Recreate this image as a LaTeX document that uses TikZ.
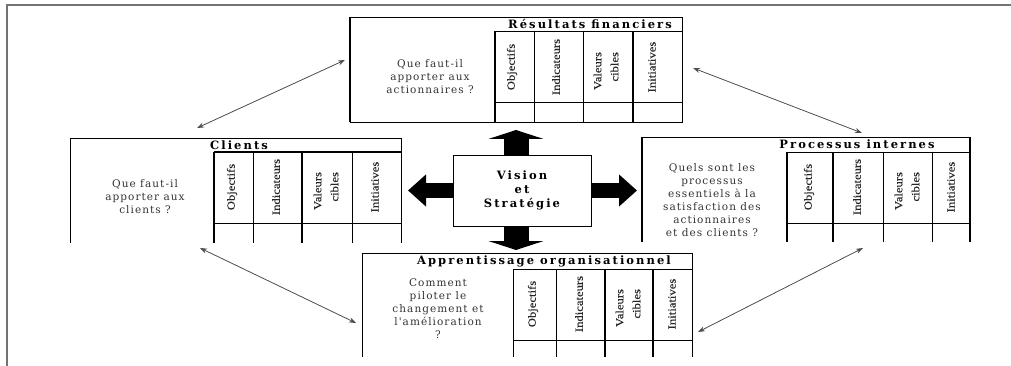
\documentclass[tikz,border=0pt]{standalone}
\usepackage{fontspec}
\setmainfont{Liberation Serif}
\newfontfamily\bodyfont{DejaVu Serif}[LetterSpace=10]
\newfontfamily\headfont{DejaVu Serif}[LetterSpace=18]
\newfontfamily\colfont{Liberation Serif}[FakeStretch=1.15, FakeBold=0.3]
\usetikzlibrary{arrows.meta, calc}
\tikzstyle{thinline} = [line width=0.9pt]
\tikzstyle{thickline} = [line width=2.4pt]
\tikzstyle{box} = [rectangle, draw=none, inner sep=0pt, outer sep=0pt]
\tikzstyle{question} = [align=center, text=black!80, font=\bodyfont\fontsize{10.5}{13}\selectfont]
\tikzstyle{header} = [inner sep=0pt, font=\headfont\bfseries\fontsize{11.5}{14}\selectfont]
\tikzstyle{collabel} = [rotate=90, align=right, text=black!85, font=\colfont\fontsize{11}{11}\selectfont]
\tikzstyle{link} = [{Stealth[length=7pt,width=5pt]}-{Stealth[length=7pt,width=5pt]}, line width=0.8pt, black!70]
\tikzstyle{bigv} = [line width=25pt, -{Triangle[width=55pt,length=9pt]}]
\tikzstyle{bigh} = [line width=14pt, -{Triangle[width=31pt,length=18pt]}]

\begin{document}
\begin{tikzpicture}[x=1pt, y=-1pt]
\useasboundingbox (0,0) rectangle (1011,366);

% Outer frame (cropped)
\draw[line width=1.4pt, black!55] (7,366) -- (7,5) -- (1011,5);

% Panels
\node[box, minimum width=332pt, minimum height=105pt] (fin) at (516,69.5) {};
\node[box, minimum width=331pt, minimum height=105pt] (clients) at (235.5,190.5) {};
\node[box, minimum width=328pt, minimum height=105pt] (internes) at (806,189.5) {};
\node[box, minimum width=330pt, minimum height=104pt] (apprent) at (527,305) {};

% Resultats financiers
\draw[thinline] (fin.north west) -- (fin.north east) -- (fin.south east) -- (fin.south west);
\draw[thickline] (fin.north west) -- (fin.south west);
\draw[thinline] (495,31) -- (682,31);
\draw[thinline] (495,102) -- (682,102);
\draw[thickline] (495,31) -- (495,122);
\draw[thinline] (534,31) -- (534,122);
\draw[thinline] (583,31) -- (583,122);
\draw[thickline] (633,31) -- (633,122);
\node[header] (finh) at (590,24) {Résultats financiers};
\node[question] (finq) at (430,77) {Que faut-il\\apporter aux\\actionnaires ?};
\node[collabel] (fobj) at (512,67) {Objectifs};
\node[collabel] (find) at (556,67) {Indicateurs};
\node[collabel] (fval) at (606,71) {Valeurs\\[6pt]cibles};
\node[collabel] (fini) at (652,67) {Initiatives};

% Clients
\draw[thinline] (clients.south west) -- (clients.north west) -- (clients.north east) -- (clients.south east);
\draw[thickline] (214,152) -- (401,152);
\draw[thinline] (214,223) -- (401,223);
\draw[thickline] (214,152) -- (214,243);
\draw[thinline] (253,152) -- (253,243);
\draw[thickline] (302,152) -- (302,243);
\draw[thinline] (352,152) -- (352,243);
\node[header] (clih) at (239,145) {Clients};
\node[question] (cliq) at (145,197) {Que faut-il\\apporter aux\\clients ?};
\node[collabel] (cobj) at (232,187) {Objectifs};
\node[collabel] (cind) at (276,187) {Indicateurs};
\node[collabel] (cval) at (326,191) {Valeurs\\[6pt]cibles};
\node[collabel] (cini) at (375,187) {Initiatives};

% Processus internes
\draw[thinline] (internes.north west) -- (internes.north east);
\draw[thickline] (internes.north west) -- (internes.south west);
\draw[thickline] (internes.north east) -- (internes.south east);
\draw[thinline] (787,152) -- (970,152);
\draw[thinline] (787,223) -- (970,223);
\draw[thickline] (787,152) -- (787,242);
\draw[thickline] (833,152) -- (833,242);
\draw[thinline] (883,152) -- (883,242);
\draw[thinline] (932,152) -- (932,242);
\node[header] (inth) at (857,144) {Processus internes};
\node[question] (intq) at (712,200) {Quels sont les\\processus\\essentiels à la\\satisfaction des\\actionnaires\\et des clients ?};
\node[collabel] (iobj) at (809,187) {Objectifs};
\node[collabel] (iind) at (857,187) {Indicateurs};
\node[collabel] (ival) at (907,191) {Valeurs\\[6pt]cibles};
\node[collabel] (iini) at (951,187) {Initiatives};

% Apprentissage organisationnel
\draw[thinline] (apprent.south west) -- (apprent.north west) -- (apprent.north east) -- (apprent.south east);
\draw[thinline] (513,269) -- (692,269);
\draw[thinline] (513,340) -- (692,340);
\draw[thinline] (513,269) -- (513,357);
\draw[thinline] (556,269) -- (556,357);
\draw[thickline] (605,269) -- (605,357);
\draw[thickline] (653,269) -- (653,357);
\node[header] (apph) at (544,261) {Apprentissage organisationnel};
\node[question] (appq) at (438,309) {Comment\\piloter le\\changement et\\l'amélioration\\?};
\node[collabel] (aobj) at (533,304) {Objectifs};
\node[collabel] (aind) at (579,304) {Indicateurs};
\node[collabel] (aval) at (628,308) {Valeurs\\[6pt]cibles};
\node[collabel] (aini) at (672,304) {Initiatives};

% Vision et Strategie
\node[draw, thinline, minimum width=138pt, minimum height=71pt, align=center,
  font=\headfont\bfseries\fontsize{11.5}{14}\selectfont] (vision) at (522,190.5) {Vision\\et\\Stratégie};

% Block arrows
\draw[bigv, shorten >=8pt] (fin.south |- vision.north) -- (fin.south);
\draw[bigv, shorten >=3pt] ([xshift=-6pt]vision.south) -- ([xshift=-6pt]vision.south |- apprent.north);
\draw[bigh, shorten >=7pt] (vision.west) -- (clients.east |- vision.west);
\draw[bigh, shorten >=5pt] (vision.east) -- (internes.west |- vision.east);

% Links between panels
\draw[link] ([xshift=127pt,yshift=10pt]clients.north west) -- ([xshift=-5pt,yshift=9.5pt]fin.west);
\draw[link] ([xshift=130pt,yshift=-5pt]clients.south west) -- ([xshift=-6pt,yshift=-18pt]apprent.west);
\draw[link] ([xshift=11pt,yshift=1.5pt]fin.east) -- ([xshift=220pt,yshift=4pt]internes.north west);
\draw[link] ([xshift=6pt,yshift=-27pt]apprent.east) -- ([xshift=221pt,yshift=-6pt]internes.south west);
\end{tikzpicture}
\end{document}
